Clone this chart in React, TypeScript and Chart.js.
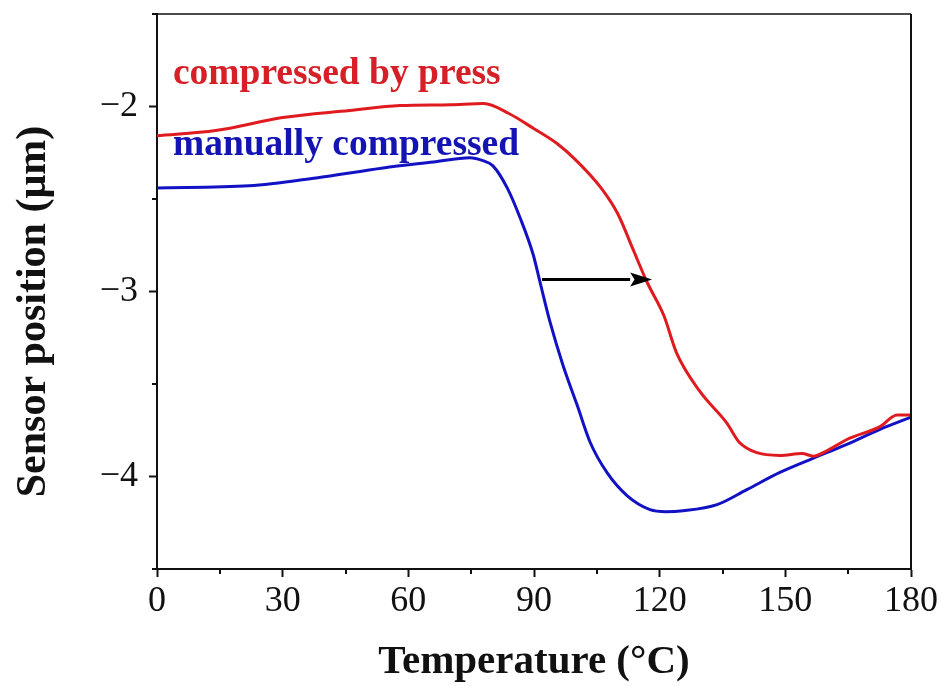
import React, { useEffect, useRef } from 'react';
import { Chart, registerables } from 'chart.js';

Chart.register(...registerables);

// ---- data ----
const RED_T = [0, 14, 30, 46, 58, 70, 78, 84, 90, 95.5, 100, 106, 110, 113.6, 117, 121, 124, 129.6, 136, 139, 143, 148.7, 154, 156.6, 160, 164.7, 172.6, 176.7, 180];
const RED_POS = [-2.158, -2.13, -2.06, -2.022, -1.995, -1.99, -1.984, -2.038, -2.12, -2.2, -2.29, -2.44, -2.58, -2.77, -2.95, -3.13, -3.33, -3.54, -3.71, -3.815, -3.87, -3.886, -3.875, -3.89, -3.86, -3.8, -3.73, -3.668, -3.668];

const BLUE_T = [0, 22, 38, 54, 66, 74.7, 77.8, 80.2, 83.6, 86.7, 89.8, 91.4, 93.8, 96.9, 100.3, 103.4, 107.4, 112.2, 117.7, 121.5, 125.6, 133.7, 140.8, 148.7, 156.6, 164.7, 172.6, 180];
const BLUE_POS = [-2.44, -2.429, -2.386, -2.332, -2.3, -2.277, -2.293, -2.321, -2.44, -2.603, -2.8, -2.946, -3.163, -3.397, -3.614, -3.815, -3.978, -4.103, -4.179, -4.19, -4.185, -4.152, -4.071, -3.978, -3.902, -3.826, -3.745, -3.679];

const SERIES_LABELS = ['compressed by press', 'manually compressed'];
const LABEL_T = [3.8, 3.8];
const LABEL_POS = [-1.88, -2.26];

const ARROW_T = [91.9, 118.2];
const ARROW_POS = [-2.935, -2.935];

const X_MAJOR = [0, 30, 60, 90, 120, 150, 180];
const Y_MAJOR = [-4, -3, -2];
const X_MINOR = [15, 45, 75, 105, 135, 165];
const Y_MINOR = [-4.5, -3.5, -2.5, -1.5];

const X_TITLE = 'Temperature (°C)';
const Y_TITLE = 'Sensor position (μm)';

const FONT = '"Liberation Serif", "DejaVu Serif", serif';
const RED = '#e01b1f';
const BLUE = '#1212c4';
const RED_TEXT = '#d61f26';
const BLUE_TEXT = '#1414b4';
const INK = '#111111';

const decor = {
  id: 'decor',
  beforeDatasetsDraw(chart: any) {
    const { ctx, scales } = chart;
    const x = scales.x;
    const y = scales.y;
    ctx.save();
    ctx.font = `bold 37.5px ${FONT}`;
    ctx.textAlign = 'left';
    ctx.textBaseline = 'alphabetic';
    const colors = [RED_TEXT, BLUE_TEXT];
    SERIES_LABELS.forEach((t, i) => {
      ctx.fillStyle = colors[i];
      ctx.fillText(t, x.getPixelForValue(LABEL_T[i]), y.getPixelForValue(LABEL_POS[i]));
    });
    ctx.restore();
  },
  afterDraw(chart: any) {
    const { ctx, chartArea: a, scales } = chart;
    const x = scales.x;
    const y = scales.y;
    ctx.save();
    // top and right frame
    ctx.strokeStyle = INK;
    ctx.lineWidth = 1.5;
    ctx.beginPath();
    ctx.moveTo(a.left, a.top);
    ctx.lineTo(a.right, a.top);
    ctx.stroke();
    ctx.lineWidth = 2;
    ctx.beginPath();
    ctx.moveTo(a.right, a.top);
    ctx.lineTo(a.right, a.bottom + 1);
    ctx.stroke();
    // minor ticks
    ctx.lineWidth = 2;
    X_MINOR.forEach((v) => {
      const px = Math.round(x.getPixelForValue(v));
      ctx.beginPath();
      ctx.moveTo(px, a.bottom);
      ctx.lineTo(px, a.bottom + 5);
      ctx.stroke();
    });
    Y_MINOR.forEach((v) => {
      const py = Math.round(y.getPixelForValue(v));
      ctx.beginPath();
      ctx.moveTo(a.left, py);
      ctx.lineTo(a.left - 5, py);
      ctx.stroke();
    });
    // arrow
    const x0 = x.getPixelForValue(ARROW_T[0]);
    const x1 = x.getPixelForValue(ARROW_T[1]);
    const y0 = y.getPixelForValue(ARROW_POS[0]);
    const y1 = y.getPixelForValue(ARROW_POS[1]);
    const head = 22;
    const ang = Math.atan2(y1 - y0, x1 - x0);
    ctx.strokeStyle = '#000';
    ctx.fillStyle = '#000';
    ctx.lineWidth = 3;
    ctx.beginPath();
    ctx.moveTo(x0, y0);
    ctx.lineTo(x1 - head * Math.cos(ang), y1 - head * Math.sin(ang));
    ctx.stroke();
    ctx.beginPath();
    ctx.moveTo(x1, y1);
    ctx.lineTo(x1 - head * Math.cos(ang) + 7 * Math.sin(ang), y1 - head * Math.sin(ang) - 7 * Math.cos(ang));
    ctx.lineTo(x1 - head * 0.8 * Math.cos(ang), y1 - head * 0.8 * Math.sin(ang));
    ctx.lineTo(x1 - head * Math.cos(ang) - 7 * Math.sin(ang), y1 - head * Math.sin(ang) + 7 * Math.cos(ang));
    ctx.closePath();
    ctx.fill();
    // y-axis title
    ctx.font = `bold 42px ${FONT}`;
    ctx.fillStyle = INK;
    ctx.textAlign = 'center';
    ctx.textBaseline = 'alphabetic';
    ctx.translate(45, (a.top + a.bottom) / 2 + 20);
    ctx.rotate(-Math.PI / 2);
    ctx.fillText(Y_TITLE, 0, 0);
    ctx.restore();
  },
};

export default function App() {
  const ref = useRef<HTMLCanvasElement | null>(null);

  useEffect(() => {
    if (!ref.current) return;
    const chart = new Chart(ref.current, {
      type: 'line',
      data: {
        datasets: [
          {
            label: SERIES_LABELS[0],
            data: RED_T.map((t, i) => ({ x: t, y: RED_POS[i] })),
            borderColor: RED,
            backgroundColor: RED,
            borderWidth: 3,
            pointRadius: 0,
            cubicInterpolationMode: 'monotone',
          },
          {
            label: SERIES_LABELS[1],
            data: BLUE_T.map((t, i) => ({ x: t, y: BLUE_POS[i] })),
            borderColor: BLUE,
            backgroundColor: BLUE,
            borderWidth: 3,
            pointRadius: 0,
            cubicInterpolationMode: 'monotone',
          },
        ],
      },
      options: {
        animation: false,
        responsive: false,
        devicePixelRatio: 1,
        layout: { padding: { left: 0, top: 14, right: 31, bottom: 0 } },
        plugins: { legend: { display: false }, tooltip: { enabled: false } },
        scales: {
          x: {
            type: 'linear',
            min: 0,
            max: 180,
            afterBuildTicks(s: any) {
              s.ticks = X_MAJOR.map((v) => ({ value: v }));
            },
            ticks: {
              autoSkip: false,
              maxRotation: 0,
              color: INK,
              padding: 3,
              font: { family: FONT, size: 36, lineHeight: 1.2 },
            },
            grid: { display: true, drawOnChartArea: false, drawTicks: true, tickLength: 8, tickWidth: 2, tickColor: INK },
            border: { display: true, color: INK, width: 2 },
            title: {
              display: true,
              text: X_TITLE,
              color: INK,
              font: { family: FONT, size: 41, weight: 'bold', lineHeight: 1 },
              padding: { top: 0, bottom: 3 },
            },
            afterFit(s: any) {
              s.height = 117;
              s.paddingLeft = 0;
              s.paddingRight = 0;
            },
          },
          y: {
            type: 'linear',
            min: -4.5,
            max: -1.5,
            afterBuildTicks(s: any) {
              s.ticks = Y_MAJOR.map((v) => ({ value: v }));
            },
            ticks: {
              autoSkip: false,
              color: INK,
              padding: 11,
              font: { family: FONT, size: 36, lineHeight: 1.2 },
              callback: (v: any) => (Number(v) < 0 ? '\u2212' + Math.abs(Number(v)) : String(v)),
            },
            grid: { display: true, drawOnChartArea: false, drawTicks: true, tickLength: 8, tickWidth: 2, tickColor: INK },
            border: { display: true, color: INK, width: 2 },
            title: { display: false },
            afterFit(s: any) {
              s.width = 157;
              s.paddingTop = 0;
              s.paddingBottom = 0;
            },
          },
        },
      } as any,
      plugins: [decor],
    });
    return () => chart.destroy();
  }, []);

  return (
    <div style={{ position: 'fixed', left: 0, top: 0, width: 942, height: 686, background: '#fff' }}>
      <canvas ref={ref} width={942} height={686} style={{ display: 'block', width: 942, height: 686 }} />
    </div>
  );
}
